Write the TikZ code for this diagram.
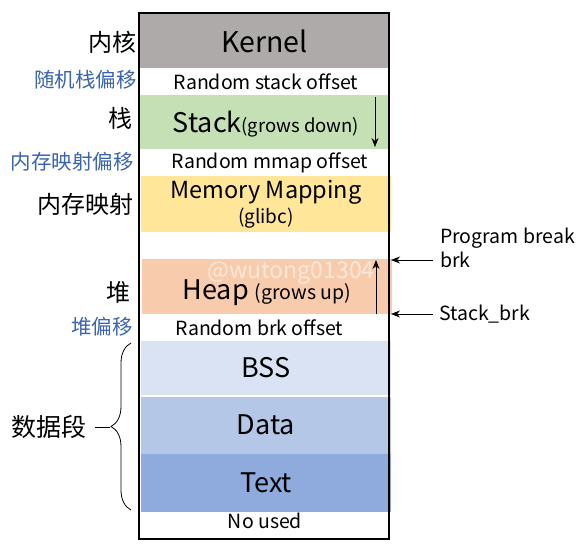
\documentclass[tikz,border=0pt]{standalone}
\usepackage{fontspec}
\setmainfont{Noto Sans CJK SC}
\usetikzlibrary{arrows.meta,decorations.pathreplacing}
\definecolor{kgray}{HTML}{AEAAAA}
\definecolor{sgreen}{HTML}{C5E0B4}
\definecolor{myellow}{HTML}{FFE699}
\definecolor{horange}{HTML}{F8CBAD}
\definecolor{bssblue}{HTML}{DAE3F3}
\definecolor{datablue}{HTML}{B4C7E7}
\definecolor{textblue}{HTML}{8FAADC}
\definecolor{lblblue}{HTML}{3A63B0}
\tikzset{
  region/.style={draw=none, inner sep=0pt, minimum width=250pt, text=black},
  big/.style={font=\fontsize{27}{30}\selectfont},
  small/.style={font=\fontsize{19.5}{22}\selectfont},
  cnbig/.style={font=\fontsize{24}{27}\selectfont, anchor=east, inner sep=0pt},
  cnblue/.style={font=\fontsize{20.5}{23}\selectfont, anchor=east, inner sep=0pt, text=lblblue},
  ptr/.style={-{Stealth[length=9pt,width=7pt]}, line width=0.8pt},
  sidelbl/.style={font=\fontsize{19.5}{22}\selectfont, anchor=west, inner sep=0pt}
}
\begin{document}
\begin{tikzpicture}[x=1pt,y=-1pt]
\useasboundingbox (0,0) rectangle (584,549);
% regions
\node[region, fill=kgray, minimum height=54pt, font=\fontsize{28.5}{30}\selectfont] (kernel) at (264.5,41) {Kernel};
\node[region, minimum height=27pt, small] (rso) at (266,81.5) {Random stack offset};
\node[region, fill=sgreen, minimum height=54pt] (stack) at (264.5,122) {};
\node[big, inner sep=0pt] (stacktxt) at (266,124) {Stack{\fontsize{18.5}{20}\selectfont(grows down)}};
\node[region, minimum height=27pt, small] (rmo) at (270,162.5) {Random mmap offset};
\node[region, fill=myellow, minimum height=56pt] (mmap) at (266,204) {};
\node[font=\fontsize{23.5}{26}\selectfont, inner sep=0pt] (mmaptxt) at (266,192) {Memory Mapping};
\node[font=\fontsize{19}{21}\selectfont, inner sep=0pt] (glibc) at (266,218) {(glibc)};
\node[region, fill=horange, minimum height=55pt] (heap) at (267,286.5) {};
\node[big, inner sep=0pt, anchor=base] (heaptxt) at (267,299) {Heap {\fontsize{19.5}{21}\selectfont(grows up)}};
\node[font=\fontsize{23}{25}\selectfont, text=white, opacity=0.55, inner sep=0pt, anchor=base] (wm) at (291,278) {@wutong01304};
\node[region, minimum height=27pt, small] (rbo) at (259.5,327.5) {Random brk offset};
\node[region, fill=bssblue, minimum height=54pt, big] (bss) at (266,368) {BSS};
\node[region, fill=datablue, minimum height=57pt, big] (data) at (266,425) {Data};
\node[region, fill=textblue, minimum height=58pt, big] (text) at (266,483) {Text};
\node[region, minimum height=29pt, small] (nu) at (265,521) {No used};
% outer border
\node[draw, line width=1.5pt, minimum width=250pt, minimum height=526pt, inner sep=0pt] (mem) at (264,276) {};
% growth arrows
\coordinate (sdtop) at (375,97);
\coordinate (sdbot) at (375,147);
\draw[ptr] (sdtop) -- (sdbot);
\coordinate (hubot) at (376,314);
\coordinate (hutop) at (376,260);
\draw[ptr] (hubot) -- (hutop);
% right labels
\node[sidelbl] (pb) at (440,238) {Program break};
\node[sidelbl] (brk) at (440,260) {brk};
\node[sidelbl] (sbrk) at (439,314) {Stack\_brk};
\coordinate (brkpt) at (391,260);
\coordinate (sbrkpt) at (391,314);
\coordinate (brkstart) at (433,260);
\draw[ptr] (brkstart) -- (brkpt);
\coordinate (sbrkstart) at (433,314);
\draw[ptr] (sbrkstart) -- (sbrkpt);
% left labels
\node[cnbig] (l1) at (137,42) {内核};
\node[cnblue] (l2) at (137,80) {随机栈偏移};
\node[cnbig] (l3) at (133,118) {栈};
\node[cnblue] (l4) at (134,162) {内存映射偏移};
\node[cnbig] (l5) at (134,204) {内存映射};
\node[cnbig] (l6) at (131,292) {堆};
\node[cnblue] (l7) at (133,327) {堆偏移};
\node[font=\fontsize{25}{27}\selectfont, inner sep=0pt] (l8) at (49,427) {数据段};
% brace
\coordinate (brbot) at (131,510);
\coordinate (brtop) at (131,343);
\draw[line width=0.8pt, decorate, decoration={brace, amplitude=20pt}] (brbot) -- (brtop);
\coordinate (dashl) at (95,427);
\coordinate (dashr) at (110,427);
\draw[line width=0.8pt] (dashl) -- (dashr);
\end{tikzpicture}
\end{document}
